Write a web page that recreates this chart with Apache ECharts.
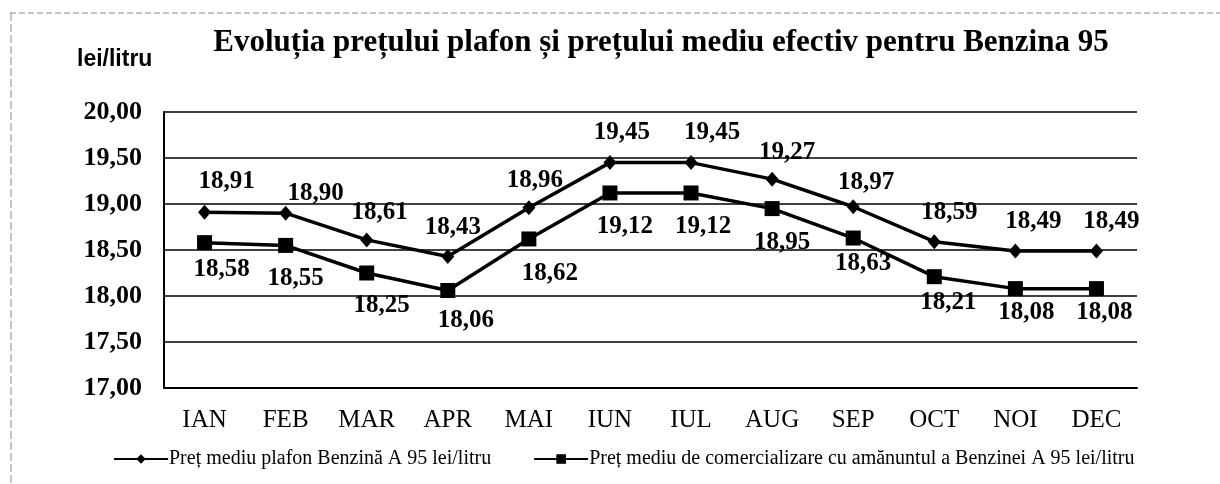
<!DOCTYPE html>
<html>
<head>
<meta charset="utf-8">
<script src="https://cdn.jsdelivr.net/npm/echarts@6/dist/echarts.min.js"></script>
<style>
html,body{margin:0;padding:0;background:#fff;}
#c{width:1220px;height:484px;}
</style>
</head>
<body>
<div id="c"></div>
<script>
const categories = ['IAN','FEB','MAR','APR','MAI','IUN','IUL','AUG','SEP','OCT','NOI','DEC'];
const plafon = [18.91,18.90,18.61,18.43,18.96,19.45,19.45,19.27,18.97,18.59,18.49,18.49];
const retail = [18.58,18.55,18.25,18.06,18.62,19.12,19.12,18.95,18.63,18.21,18.08,18.08];
const seriesNames = ['Preț mediu plafon Benzină A 95 lei/litru','Preț mediu de comercializare cu amănuntul a Benzinei A 95 lei/litru'];
const titleText = 'Evoluția prețului plafon și prețului mediu efectiv pentru Benzina 95';
const yUnit = 'lei/litru';

// label placement (pixel nudges relative to each marker), styling only
const plafonLabelShift = [[22,-31],[30,-20],[13,-27],[5,-29],[6,-27],[12,-30],[21,-30],[15,-27],[13,-24],[15,-29],[18,-29],[15,-29]];
const retailLabelShift = [[17,27],[10,33],[15,33],[18,30],[21,35],[15,34],[12,34],[10,34],[10,26],[14,26],[11,24],[8,24]];

const fmt = v => Number(v).toFixed(2).replace('.', ',');
const SERIF = '"Liberation Serif","Times New Roman",serif';
const labelBase = {show:true, position:'inside', fontFamily:SERIF, fontWeight:'bold', fontSize:25, color:'#000', formatter:p=>fmt(p.value)};

const withLabels = (vals, shifts) => vals.map((v,i)=>({value:v, label:{offset:shifts[i]}}));

const chart = echarts.init(document.getElementById('c'), null, {renderer:'canvas'});
chart.setOption({
  backgroundColor:'#ffffff',
  animation:false,
  title:{
    text:titleText,
    left:656, top:22, textAlign:'center',
    textStyle:{fontFamily:SERIF, fontWeight:'bold', fontSize:31, color:'#000'}
  },
  graphic:[
    {type:'text', left:77, top:48, style:{text:yUnit, font:'bold 23px "Liberation Sans",Arial,sans-serif', fill:'#000'}},
    {type:'line', shape:{x1:10,y1:13,x2:1220,y2:13}, style:{stroke:'#888', lineWidth:1, lineDash:[6,3]}},
    {type:'line', shape:{x1:11,y1:13,x2:11,y2:484}, style:{stroke:'#888', lineWidth:1, lineDash:[8,3]}}
  ],
  legend:{
    top:444, left:108, itemWidth:54, itemHeight:12, itemGap:42,
    textStyle:{fontFamily:SERIF, fontSize:20, color:'#000', padding:[0,0,0,-4]},
    data:seriesNames
  },
  grid:{left:164, right:83, top:112, bottom:96},
  xAxis:{
    type:'category', data:categories, boundaryGap:true,
    axisLine:{lineStyle:{color:'#000', width:2}},
    axisTick:{show:false},
    axisLabel:{fontFamily:SERIF, fontSize:25, color:'#000', margin:20}
  },
  yAxis:{
    type:'value', min:17, max:20, interval:0.5,
    axisLine:{show:true, lineStyle:{color:'#000', width:2}},
    axisTick:{show:false},
    splitLine:{lineStyle:{color:'#000', width:1.5}},
    axisLabel:{fontFamily:SERIF, fontWeight:'bold', fontSize:26, color:'#000', margin:22, formatter:fmt}
  },
  series:[
    {
      name:seriesNames[0], type:'line', data:withLabels(plafon, plafonLabelShift),
      symbol:'diamond', symbolSize:[13,15],
      lineStyle:{color:'#000', width:3.5},
      itemStyle:{color:'#000'},
      label:labelBase
    },
    {
      name:seriesNames[1], type:'line', data:withLabels(retail, retailLabelShift),
      symbol:'rect', symbolSize:15,
      lineStyle:{color:'#000', width:3.5},
      itemStyle:{color:'#000'},
      label:labelBase
    }
  ]
});
</script>
</body>
</html>
